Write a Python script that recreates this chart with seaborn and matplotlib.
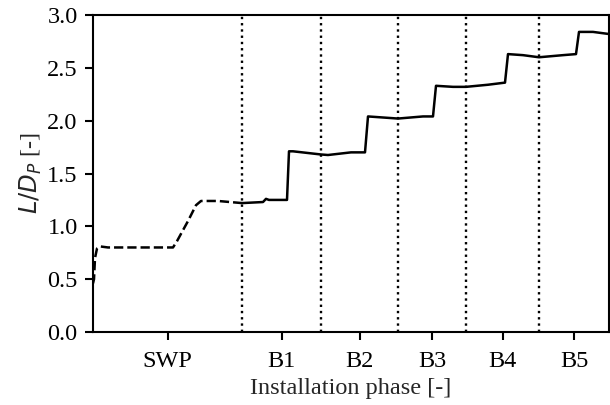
import numpy as np
import pandas as pd
import seaborn as sns
import matplotlib.pyplot as plt

# phase boundaries (installation step) and labels
boundaries = [0, 149, 228, 305, 373, 446, 516]
phase_labels = ['SWP', 'B1', 'B2', 'B3', 'B4', 'B5']

# self-weight penetration (dashed)
swp_x = [0, 1, 2, 4, 7, 15, 40, 80, 84, 95, 103, 108, 125, 149]
swp_y = [0.46, 0.50, 0.70, 0.79, 0.81, 0.80, 0.80, 0.80, 0.86, 1.05, 1.20, 1.24, 1.24, 1.22]

# suction / blow phases (solid)
blow_x = [149, 170, 173, 176, 194, 196, 200, 228, 235, 258, 272, 275, 290, 305, 330, 340,
          343, 360, 373, 395, 412, 415, 430, 446, 470, 483, 486, 500, 516]
blow_y = [1.22, 1.23, 1.26, 1.25, 1.25, 1.71, 1.71, 1.68, 1.675, 1.70, 1.70, 2.04, 2.03, 2.02, 2.04, 2.04,
          2.33, 2.32, 2.32, 2.34, 2.36, 2.63, 2.62, 2.60, 2.62, 2.63, 2.84, 2.84, 2.82]

sns.set_style('ticks')
plt.rcParams['font.family'] = ['Liberation Serif', 'DejaVu Serif']
plt.rcParams['mathtext.fontset'] = 'dejavusans'

fig = plt.figure(figsize=(6.1, 4.05), dpi=100)
ax = fig.add_axes([93 / 610, 1 - 332 / 405, 516 / 610, 317 / 405])

df_swp = pd.DataFrame({'x': swp_x, 'y': swp_y})
df_blow = pd.DataFrame({'x': blow_x, 'y': blow_y})
sns.lineplot(data=df_swp, x='x', y='y', ax=ax, color='black', linestyle='--',
             linewidth=1.8, estimator=None, sort=False)
sns.lineplot(data=df_blow, x='x', y='y', ax=ax, color='black', linestyle='-',
             linewidth=1.8, estimator=None, sort=False)

for b in boundaries[1:-1]:
    ax.axvline(b, color='black', linestyle=':', linewidth=1.7)

centers = [(boundaries[i] + boundaries[i + 1]) / 2 for i in range(len(phase_labels))]
ax.set_xticks(centers)
ax.set_xticklabels(phase_labels)
ax.set_xlim(boundaries[0], boundaries[-1])
ax.set_ylim(0, 3.0)
ax.set_yticks(np.arange(0, 3.01, 0.5))
ax.set_yticklabels([f'{v:.1f}' for v in np.arange(0, 3.01, 0.5)])

ax.tick_params(labelsize=17.5, length=6, width=1.5, direction='out', colors='black', pad=5)
ax.tick_params(axis='x', pad=8)
for s in ax.spines.values():
    s.set_linewidth(1.5)
    s.set_color('black')

ax.set_xlabel('Installation phase [-]', fontsize=17.5, labelpad=4)
ax.set_ylabel('$L/D_P$ [-]', fontsize=17.5, labelpad=2)

fig.savefig('out.png', dpi=100)
